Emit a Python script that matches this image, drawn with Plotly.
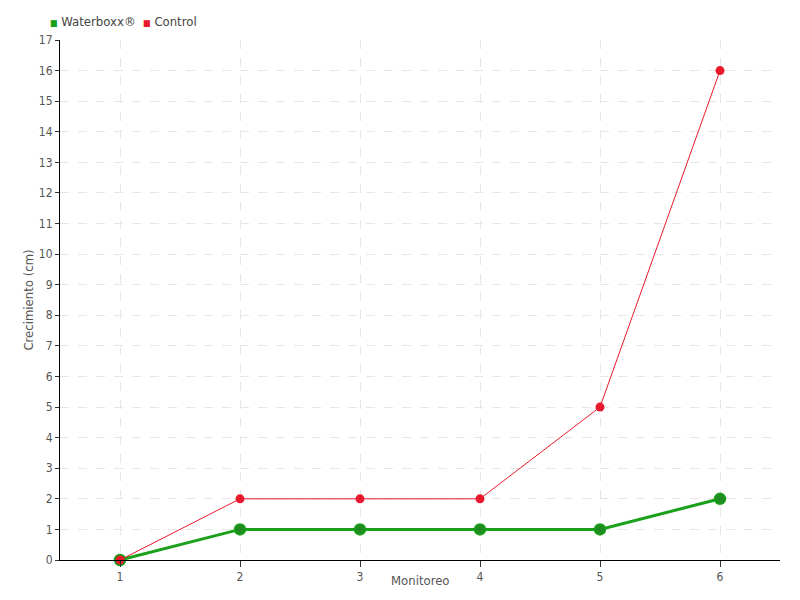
import plotly.graph_objects as go

monitoreo = [1, 2, 3, 4, 5, 6]
waterboxx = [0, 1, 1, 1, 1, 2]
control = [0, 2, 2, 2, 5, 16]
y_ticks = list(range(0, 18))
series_names = ["Waterboxx®", "Control"]
x_title = "Monitoreo"
y_title = "Crecimiento (cm)"

FONT = "DejaVu Sans Condensed"
GREEN = "#1aa01a"
RED = "#e8192c"

fig = go.Figure()
fig.add_trace(go.Scatter(x=monitoreo, y=waterboxx, mode="lines+markers", name=series_names[0],
                         showlegend=False, cliponaxis=False,
                         line=dict(color=GREEN, width=3),
                         marker=dict(size=11, color="#1e8c1e", line=dict(color=GREEN, width=1.5))))
fig.add_trace(go.Scatter(x=monitoreo, y=control, mode="lines+markers", name=series_names[1],
                         showlegend=False, cliponaxis=False,
                         line=dict(color=RED, width=1),
                         marker=dict(size=9, color=RED)))

# legend drawn as annotations (compact square swatches)
legend_text = (f'<span style="color:{GREEN};font-size:9px">■</span> {series_names[0]}  '
               f'<span style="color:{RED};font-size:9px">■</span> {series_names[1]}')
fig.add_annotation(text=legend_text, xref="paper", yref="paper", x=-0.017, y=1.036,
                   xanchor="left", yanchor="middle", showarrow=False,
                   font=dict(size=13, color="#444444", family=FONT))
fig.add_annotation(text=x_title, xref="paper", yref="paper", x=0.5, y=-0.04,
                   xanchor="center", yanchor="middle", showarrow=False,
                   font=dict(size=13, color="#555555", family=FONT))
fig.add_annotation(text=y_title, xref="paper", yref="paper", x=-0.045, y=0.5,
                   xanchor="center", yanchor="middle", showarrow=False, textangle=-90,
                   font=dict(size=13, color="#555555", family=FONT))

fig.update_layout(
    width=800, height=600,
    margin=dict(l=52, r=28, t=32, b=48, autoexpand=False),
    paper_bgcolor="white", plot_bgcolor="white",
    font=dict(family=FONT, size=12, color="#555555"),
    showlegend=False,
    xaxis=dict(range=[0.5, 6.5], tickvals=monitoreo, ticktext=[str(v) for v in monitoreo],
               showline=True, linecolor="black", linewidth=1, ticks="outside",
               ticklen=6, tickcolor="#333333", showgrid=True, gridcolor="#e6e6e6",
               griddash="dash", zeroline=False, automargin=False),
    yaxis=dict(range=[0, 17], tickvals=y_ticks, showline=True, linecolor="black",
               linewidth=1, ticks="outside", ticklen=4, tickcolor="#333333",
               showgrid=True, gridcolor="#e6e6e6", griddash="dash", zeroline=False,
               automargin=False),
)

fig.write_html("out.html")
